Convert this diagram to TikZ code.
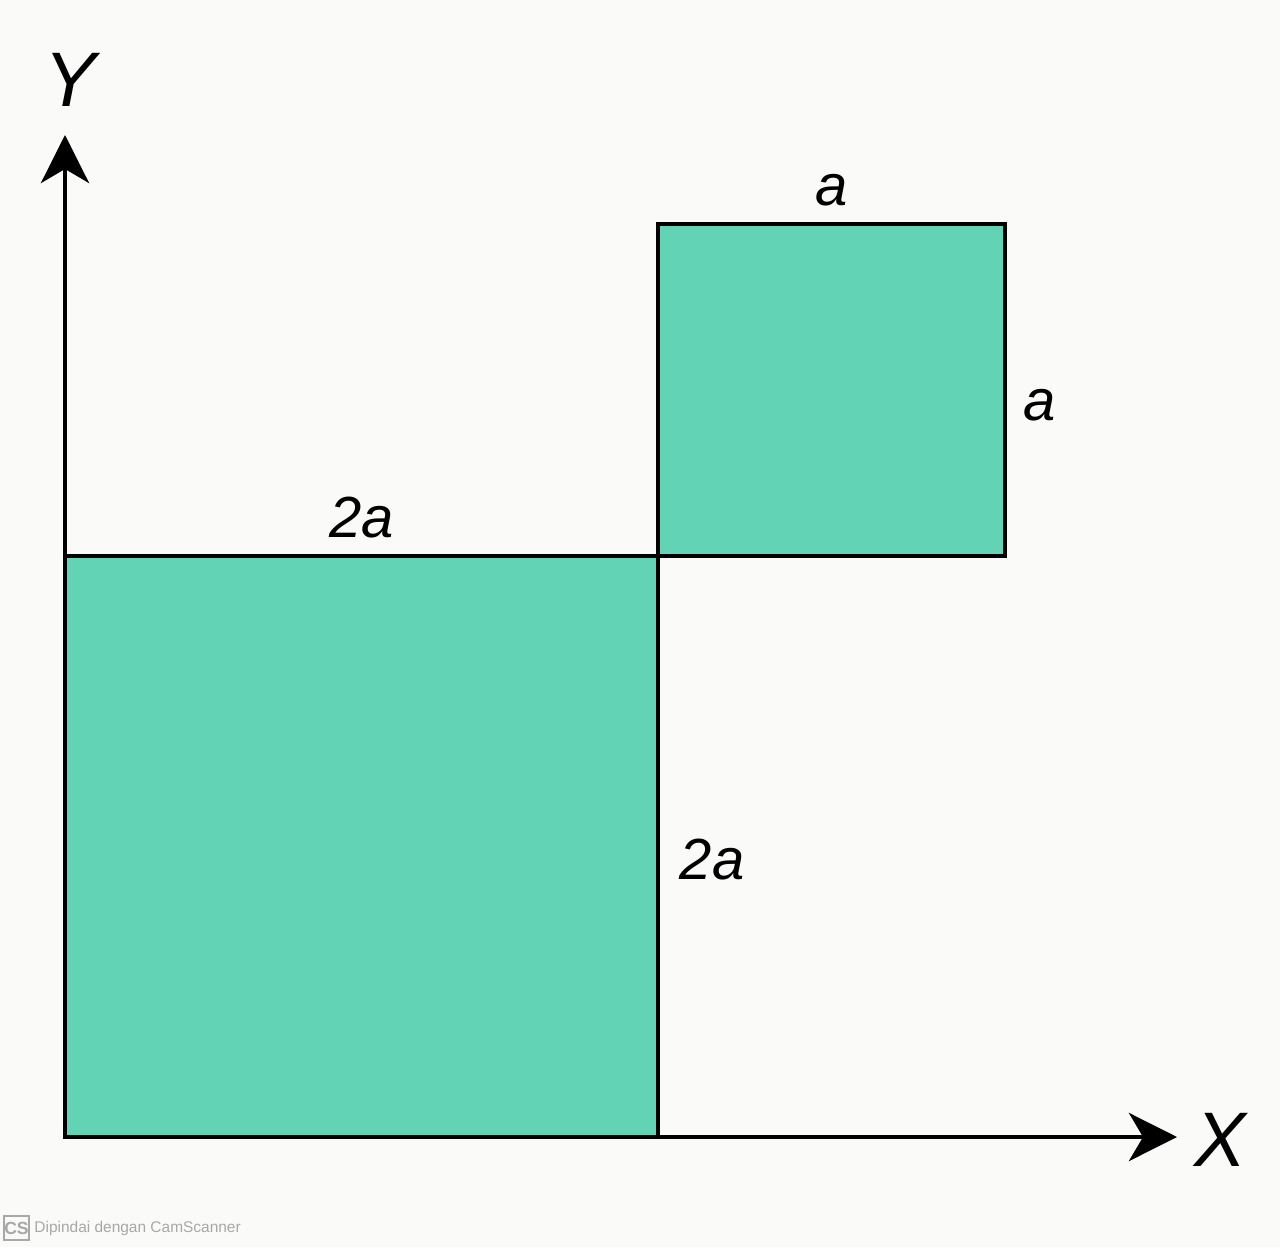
\documentclass[tikz,border=0pt]{standalone}
\usepackage{fontspec}
\setmainfont{Liberation Sans}
\usepackage{xcolor}
\usetikzlibrary{arrows.meta}
\definecolor{sqgreen}{HTML}{62D3B5}
\definecolor{paper}{HTML}{FAFAF8}
\definecolor{markgray}{HTML}{A8A8A8}

\tikzset{
  edgeline/.style={line width=1.4pt, line join=miter},
  axisline/.style={line width=1.4pt, -{Stealth[length=4.8mm, width=4.8mm, inset=1.4mm]}},
  sidelabel/.style={font=\fontsize{16.5}{18}\selectfont\itshape},
  axislabel/.style={font=\fontsize{22}{24}\selectfont\itshape}
}

\begin{document}
\begin{tikzpicture}
  % page frame, 1 px = 0.01 cm
  \fill[paper] (0,0) rectangle (12.8,12.47);
  \useasboundingbox (0,0) rectangle (12.8,12.47);

  % corners of the two squares
  \def\xO{0.65}  \def\yO{1.10}   % origin
  \def\xM{6.58}  \def\yM{6.91}   % shared corner
  \def\xT{10.05} \def\yT{10.23}  % top right of small square

  \coordinate (O) at (\xO,\yO);
  \coordinate (M) at (\xM,\yM);
  \coordinate (T) at (\xT,\yT);
  \coordinate (xend) at (11.77,\yO);
  \coordinate (yend) at (\xO,11.12);

  % squares
  \fill[sqgreen] (O) rectangle (M);
  \fill[sqgreen] (M) rectangle (T);
  \draw[edgeline] (O) rectangle (M);
  \draw[edgeline] (M) rectangle (T);

  % axes
  \draw[axisline] (O) -- (xend);
  \draw[axisline] (O) -- (yend);
  \node[axislabel] (xlab) at (12.20,1.07) {X};
  \node[axislabel] (ylab) at (0.70,11.67) {Y};

  % side lengths
  \node[sidelabel] (big top)   at ({(\xO+\xM)/2},7.29) {2a};
  \node[sidelabel] (big side)  at (7.12,3.87) {2a};
  \node[sidelabel] (small top) at ({(\xM+\xT)/2},10.57) {a};
  \node[sidelabel] (small side) at (10.40,8.42) {a};

  % scanner mark
  \node[draw=markgray, line width=0.6pt, text=markgray, inner sep=0pt,
    minimum width=0.23cm, minimum height=0.24cm,
    font=\fontsize{5}{6}\selectfont\bfseries] (cs) at (0.165,0.19) {CS};
  \node[right=0.04cm, inner sep=0pt, text=markgray, font=\fontsize{4.4}{5}\selectfont]
    (scan) at (cs.east) {Dipindai dengan CamScanner};
\end{tikzpicture}
\end{document}
